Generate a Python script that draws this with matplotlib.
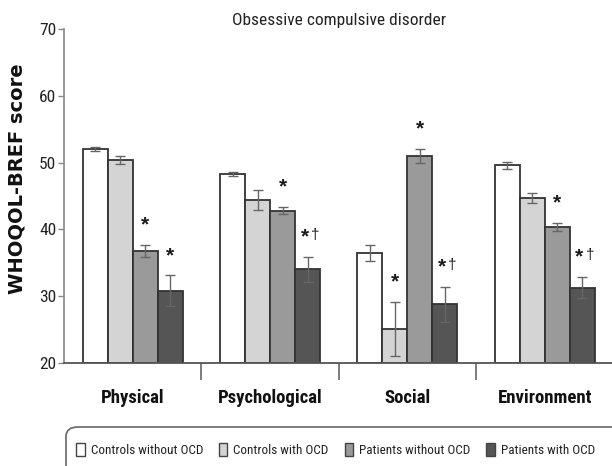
import matplotlib
matplotlib.use("Agg")
import matplotlib.pyplot as plt
from matplotlib import font_manager as fm
from matplotlib.patches import Patch, FancyBboxPatch
import numpy as np

# Domain scores (mean, error) for the four groups
domains = ["Physical", "Psychological", "Social", "Environment"]
groups = ["Controls without OCD", "Controls with OCD", "Patients without OCD", "Patients with OCD"]

ctrl_no_ocd = [52.0, 48.3, 36.5, 49.6]
ctrl_no_ocd_err = [0.3, 0.3, 1.2, 0.5]
ctrl_ocd = [50.4, 44.4, 25.1, 44.7]
ctrl_ocd_err = [0.6, 1.5, 4.0, 0.8]
pat_no_ocd = [36.8, 42.8, 51.0, 40.4]
pat_no_ocd_err = [0.9, 0.5, 1.1, 0.6]
pat_ocd = [30.8, 34.0, 28.8, 31.3]
pat_ocd_err = [2.3, 1.9, 2.6, 1.6]

# Significance markers per group / domain
sig_ctrl_no_ocd = ["", "", "", ""]
sig_ctrl_ocd = ["", "", "*", ""]
sig_pat_no_ocd = ["*", "*", "*", "*"]
sig_pat_ocd = ["*", "*\u2020", "*\u2020", "*\u2020"]

yticks = [20, 30, 40, 50, 60, 70]

means = [ctrl_no_ocd, ctrl_ocd, pat_no_ocd, pat_ocd]
errs = [ctrl_no_ocd_err, ctrl_ocd_err, pat_no_ocd_err, pat_ocd_err]
sigs = [sig_ctrl_no_ocd, sig_ctrl_ocd, sig_pat_no_ocd, sig_pat_ocd]
colors = ["#ffffff", "#d4d4d4", "#9a9a9a", "#555555"]

# Pick a narrow sans family for the labels
available = {f.name for f in fm.fontManager.ttflist}
narrow = next((n for n in ["Liberation Sans Narrow", "Roboto Condensed", "Archivo Narrow",
                           "PT Sans Narrow", "Arial Narrow", "Open Sans Condensed"]
               if n in available), "DejaVu Sans")
NARROW = [narrow, "DejaVu Sans"]

fig = plt.figure(figsize=(6.12, 4.66), dpi=100)
ax = fig.add_axes([64 / 612, 1 - 363 / 466, 1 - 64 / 612, (363 - 29) / 466])

x = np.arange(len(domains))
w = 0.182
for i, (m, e, s, c) in enumerate(zip(means, errs, sigs, colors)):
    xpos = x + (i - 1.5) * w
    ax.bar(xpos, np.array(m) - 20, width=w, bottom=20, color=c,
           edgecolor="#333333", linewidth=1.3, zorder=2)
    ax.errorbar(xpos, m, yerr=e, fmt="none", ecolor="#666666",
                elinewidth=1.0, capsize=3.5, capthick=1.0, zorder=3)
    for xi, mi, ei, si in zip(xpos, m, e, s):
        if not si:
            continue
        if "\u2020" in si:
            ax.text(xi - 0.02, mi + ei + 3.0, "*", ha="center", va="center",
                    fontsize=15, fontweight="bold", family="Liberation Sans", color="#1a1a1a")
            ax.text(xi + 0.025, mi + ei + 3.3, "\u2020", ha="left", va="center",
                    fontsize=11, family="Liberation Sans", color="#1a1a1a")
        else:
            ax.text(xi, mi + ei + 3.0, "*", ha="center", va="center",
                    fontsize=15, fontweight="bold", family="Liberation Sans", color="#1a1a1a")

ax.set_ylim(20, 70)
ax.set_xlim(-0.5, 3.49)
ax.set_yticks(yticks)
ax.set_yticklabels([str(t) for t in yticks], fontsize=12.5, color="#222222", family=NARROW)
ax.tick_params(axis="y", length=4, width=1, color="#888888", pad=1.5)

ax.set_xticks(x)
ax.set_xticklabels(domains, fontsize=13.5, fontweight="bold", color="#111111", family=NARROW)
ax.set_xticks([0.5, 1.5, 2.5], minor=True)
ax.tick_params(axis="x", which="major", length=0, pad=18.5)
ax.tick_params(axis="x", which="minor", length=12, width=1.2, color="#666666", direction="out")

for side in ["top", "right"]:
    ax.spines[side].set_visible(False)
ax.spines["left"].set_color("#888888")
ax.spines["left"].set_linewidth(1.2)
ax.spines["bottom"].set_color("#555555")
ax.spines["bottom"].set_linewidth(1.3)

fig.text(339 / 612, 1 - 21 / 466, "Obsessive compulsive disorder", ha="center", va="center",
         fontsize=12.5, color="#222222", family=NARROW)
fig.text(17 / 612, 1 - 179 / 466, "WHOQOL-BREF score", rotation=90, ha="center", va="center",
         fontsize=14, fontweight="bold", family="DejaVu Sans", color="#111111")

# Rounded legend frame running off the right and bottom edges
frame = FancyBboxPatch((66 / 612, -20 / 466), 600 / 612, (466 - 427 + 20) / 466,
                       boxstyle="round,pad=0,rounding_size=0.02", transform=fig.transFigure,
                       facecolor="white", edgecolor="#666666", linewidth=1.2, clip_on=False)
fig.patches.append(frame)

handles = [Patch(facecolor=c, edgecolor="#444444", linewidth=1.0) for c in colors]
leg = fig.legend(handles, groups, loc="center left", bbox_to_anchor=(76 / 612, 1 - 450 / 466),
                 ncol=4, frameon=False, handlelength=0.65, handleheight=1.1, handletextpad=0.45,
                 columnspacing=1.2, borderaxespad=0, borderpad=0,
                 prop=dict(size=9.5, family=NARROW))
for t in leg.get_texts():
    t.set_color("#222222")

fig.savefig("out.png", dpi=100)
